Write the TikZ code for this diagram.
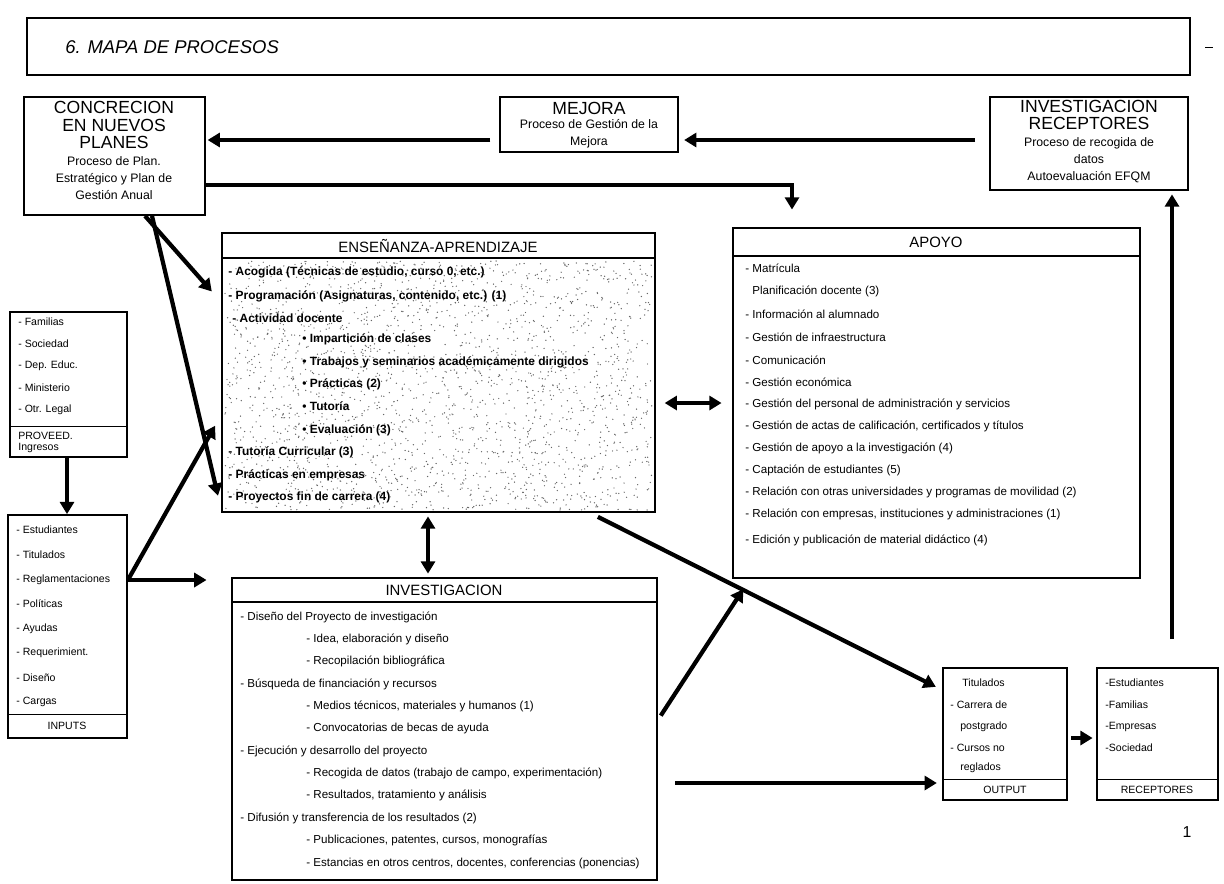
\documentclass[tikz,border=0pt]{standalone}
\usepackage{fontspec}
\setmainfont{Liberation Sans}
\usetikzlibrary{arrows.meta,fit}

\tikzset{
  caja/.style={draw, line width=1pt, inner sep=0pt},
  flecha/.style={line width=2.4pt, -{Triangle[length=7pt,width=8pt]}},
  dflecha/.style={line width=2.4pt, {Triangle[length=7pt,width=8pt]}-{Triangle[length=7pt,width=8pt]}},
  jefe/.style={font=\fontsize{10}{9.8}\selectfont, align=center, inner sep=0pt},
  pie/.style={font=\fontsize{7}{9.8}\selectfont, align=center, inner sep=0pt},
  cabecera/.style={font=\fontsize{8.5}{10}\selectfont, inner sep=0pt},
  fila/.style={font=\fontsize{6.6}{8}\selectfont, anchor=west, inner sep=0pt},
  bfila/.style={font=\fontsize{6.8}{8}\selectfont\bfseries, anchor=west, inner sep=0pt},
  mini/.style={font=\fontsize{6}{6.3}\selectfont, anchor=west, inner sep=0pt, align=left},
}

\begin{document}
\begin{tikzpicture}[x=0.02cm, y=-0.02cm]
  \useasboundingbox (0,0) rectangle (1224,883);

  \node[caja, fit={(27,18) (1190,75)}] (titulo) {};
  \node[anchor=west, inner sep=0pt, font=\fontsize{10.5}{13}\selectfont\itshape] (titulotexto) at (65,47) {6. MAPA DE PROCESOS};
  \draw (1205,47) -- (1213,47);

  % cajas de arriba
  \node[caja, fit={(24,97) (205,215)}] (concrecion) {};
  \node[jefe] (concrecionjefe) at (114,125) {CONCRECION\\EN NUEVOS\\PLANES};
  \node[pie] (concrecionpie) at (114,178) {Proceso de Plan.\\Estratégico y Plan de\\Gestión Anual};

  \node[caja, fit={(500,97) (678,152)}] (mejora) {};
  \node[jefe] (mejorajefe) at (589,108) {MEJORA};
  \node[pie] (mejorapie) at (589,134) {Proceso de Gestión de la\\Mejora};

  \node[caja, fit={(990,97) (1188,190)}] (invrec) {};
  \node[jefe] (invrecjefe) at (1089,115) {INVESTIGACION\\RECEPTORES};
  \node[pie] (invrecpie) at (1089,160) {Proceso de recogida de\\datos\\Autoevaluación EFQM};

  % ensenanza-aprendizaje
  \node[caja, fit={(222,233) (655,512)}] (ensenanza) {};
  \pgfmathsetseed{7}
  \foreach \i in {1,...,2200} {
    \fill[black!60] ({225+427*rnd}, {261+249*rnd}) circle (0.4pt);
  }
  \draw[line width=1pt] (ensenanza.west |- 0,258) -- (ensenanza.east |- 0,258);
  \node[cabecera] (ensenanzajefe) at (438,246) {ENSEÑANZA-APRENDIZAJE};
  \foreach \y/\x/\t in {272/228/{- Acogida (Técnicas de estudio, curso 0, etc.)},
      296/228/{- Programación (Asignaturas, contenido, etc.) (1)},
      318/232/{- Actividad docente},
      339/302/{• Impartición de clases},
      362/302/{• Trabajos y seminarios académicamente dirigidos},
      384/302/{• Prácticas (2)},
      406/302/{• Tutoría},
      430/302/{• Evaluación (3)},
      452/228/{- Tutoría Curricular (3)},
      475/228/{- Prácticas en empresas},
      497/228/{- Proyectos fin de carrera (4)}} {
    \node[bfila] (ens\y) at (\x,\y) {\t};
  }

  % apoyo
  \node[caja, fit={(733,228) (1140,578)}] (apoyo) {};
  \draw[line width=1pt] (apoyo.west |- 0,256) -- (apoyo.east |- 0,256);
  \node[cabecera] (apoyojefe) at (936,242) {APOYO};
  \foreach \y/\x/\t in {268/745/{- Matrícula},
      291/752/{Planificación docente (3)},
      314/745/{- Información al alumnado},
      337/745/{- Gestión de infraestructura},
      360/745/{- Comunicación},
      382/745/{- Gestión económica},
      404/745/{- Gestión del personal de administración y servicios},
      426/745/{- Gestión de actas de calificación, certificados y títulos},
      448/745/{- Gestión de apoyo a la investigación (4)},
      470/745/{- Captación de estudiantes (5)},
      492/745/{- Relación con otras universidades y programas de movilidad (2)},
      514/745/{- Relación con empresas, instituciones y administraciones (1)},
      540/745/{- Edición y publicación de material didáctico (4)}} {
    \node[fila] (apo\y) at (\x,\y) {\t};
  }

  % investigacion
  \node[caja, fit={(232,578) (657,880)}] (investigacion) {};
  \draw[line width=1pt] (investigacion.west |- 0,602) -- (investigacion.east |- 0,602);
  \node[cabecera] (invjefe) at (444,590) {INVESTIGACION};
  \foreach \y/\x/\t in {617/240/{- Diseño del Proyecto de investigación},
      639/306/{- Idea, elaboración y diseño},
      661/306/{- Recopilación bibliográfica},
      684/240/{- Búsqueda de financiación y recursos},
      706/306/{- Medios técnicos, materiales y humanos (1)},
      728/306/{- Convocatorias de becas de ayuda},
      751/240/{- Ejecución y desarrollo del proyecto},
      773/306/{- Recogida de datos (trabajo de campo, experimentación)},
      795/306/{- Resultados, tratamiento y análisis},
      818/240/{- Difusión y transferencia de los resultados (2)},
      840/306/{- Publicaciones, patentes, cursos, monografías},
      863/306/{- Estancias en otros centros, docentes, conferencias (ponencias)}} {
    \node[fila] (inv\y) at (\x,\y) {\t};
  }

  % cajas de la izquierda
  \node[caja, fit={(10,312) (127,457)}] (proveedores) {};
  \draw (proveedores.west |- 0,426) -- (proveedores.east |- 0,426);
  \foreach \y/\t in {322/{- Familias}, 344/{- Sociedad}, 366/{- Dep. Educ.}, 388/{- Ministerio}, 410/{- Otr. Legal}} {
    \node[mini] (prov\y) at (18,\y) {\t};
  }
  \node[mini] (provpie) at (18,442) {PROVEED.\\Ingresos};

  \node[caja, fit={(8,515) (127,738)}] (inputs) {};
  \draw (inputs.west |- 0,714) -- (inputs.east |- 0,714);
  \foreach \y/\t in {530/{- Estudiantes}, 555/{- Titulados}, 580/{- Reglamentaciones}, 604/{- Políticas},
      629/{- Ayudas}, 653/{- Requerimient.}, 678/{- Diseño}, 702/{- Cargas}} {
    \node[mini] (inp\y) at (16,\y) {\t};
  }
  \node[mini, anchor=center] (inputspie) at (67,726) {INPUTS};

  % cajas de abajo a la derecha
  \node[caja, fit={(943,668) (1067,800)}] (salida) {};
  \draw (salida.west |- 0,779) -- (salida.east |- 0,779);
  \foreach \y/\x/\t in {683/962/{Titulados}, 705/950/{- Carrera de}, 727/960/{postgrado}, 748/950/{- Cursos no}, 768/960/{reglados}} {
    \node[mini] (sal\y) at (\x,\y) {\t};
  }
  \node[mini, anchor=center] (salidapie) at (1005,790) {OUTPUT};

  \node[caja, fit={(1097,668) (1218,800)}] (destino) {};
  \draw (destino.west |- 0,779) -- (destino.east |- 0,779);
  \foreach \y/\t in {683/{-Estudiantes}, 705/{-Familias}, 727/{-Empresas}, 748/{-Sociedad}} {
    \node[mini] (des\y) at (1105,\y) {\t};
  }
  \node[mini, anchor=center] (destinopie) at (1157,790) {RECEPTORES};

  % flechas
  \draw[flecha, shorten <=8pt, shorten >=3pt] (invrec.west |- 0,140) -- (mejora.east |- 0,140);
  \draw[flecha, shorten <=5pt, shorten >=1pt] (mejora.west |- 0,140) -- (concrecion.east |- 0,140);
  \draw[flecha, shorten >=10pt] (concrecion.east |- 0,185) -| (apoyo.north -| 792,0);

  \draw[flecha, shorten >=8pt] (concrecion.south -| 145,0) -- (ensenanza.west |- 0,302);
  \draw[flecha, shorten >=10pt] (concrecion.south -| 152,0) -- (ensenanza.south -| 222,0);

  \draw[flecha, shorten >=7pt] (inputs.east |- 0,580) -- (ensenanza.west |- 0,415);
  \draw[flecha, shorten >=14pt] (inputs.east |- 0,580) -- (investigacion.west |- 0,580);
  \draw[flecha] (proveedores.south -| 67,0) -- (inputs.north -| 67,0);

  \draw[dflecha, shorten <=2pt, shorten >=2pt] (ensenanza.south -| 428,0) -- (investigacion.north -| 428,0);
  \draw[dflecha, shorten <=5pt, shorten >=6pt] (ensenanza.east |- 0,403) -- (apoyo.west |- 0,403);

  \draw[flecha, shorten <=5pt, shorten >=4pt] (ensenanza.south -| 590,0) -- (salida.west |- 0,690);
  \draw[flecha, shorten <=3pt, shorten >=7pt] (investigacion.east |- 0,720) -- (apoyo.south -| 750,0);
  \draw[flecha, shorten <=10pt, shorten >=3pt] (investigacion.east |- 0,783) -- (salida.west |- 0,783);
  \draw[flecha, shorten <=2pt, shorten >=2pt] (salida.east |- 0,738) -- (destino.west |- 0,738);
  \draw[flecha, shorten <=16pt, shorten >=2pt] (destino.north -| 1172,0) -- (invrec.south -| 1172,0);

  \node[font=\fontsize{9}{10}\selectfont] (pagina) at (1187,832) {1};
\end{tikzpicture}
\end{document}
